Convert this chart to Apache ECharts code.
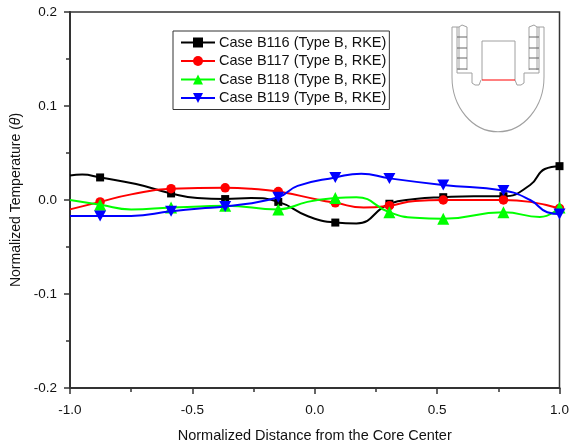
<!DOCTYPE html>
<html><head><meta charset="utf-8">
<style>html,body{margin:0;padding:0;background:#fff}#c{width:569px;height:445px}</style>
<script src="https://cdn.jsdelivr.net/npm/echarts@6/dist/echarts.min.js"></script></head>
<body><div id="c"></div>
<script>
const names=['Case B116 (Type B, RKE)','Case B117 (Type B, RKE)','Case B118 (Type B, RKE)','Case B119 (Type B, RKE)'];
const colors=['#000000','#ff0000','#00ff00','#0000ff'];
const symbols=['rect','circle','triangle','path://M0 0L10 0L5 10Z'];
const markerX=[-0.877,-0.587,-0.366,-0.149,0.084,0.305,0.525,0.771,1.0];
const b116Marks=[0.024,0.007,0.001,-0.002,-0.024,-0.004,0.003,0.004,0.036];
const b117Marks=[-0.002,0.012,0.013,0.009,-0.003,-0.006,0.0,0.0,-0.009];
const b118Marks=[-0.005,-0.008,-0.006,-0.010,0.002,-0.013,-0.020,-0.013,-0.008];
const b119Marks=[-0.017,-0.012,-0.007,0.003,0.024,0.023,0.016,0.010,-0.015];
// extra points read along the curves between the markers
const b116CurveX=[-1.0,-0.95,-0.73,-0.48,-0.26,-0.03,0.17,0.41,0.65,0.88,0.94];
const b116CurveY=[0.026,0.027,0.017,0.002,0.002,-0.017,-0.025,0.001,0.004,0.016,0.033];
const b117CurveX=[-1.0,-0.75,-0.26,0.02,0.2,0.41,0.88];
const b117CurveY=[-0.010,0.006,0.012,0.0,-0.008,-0.001,-0.002];
const b118CurveX=[-1.0,-0.75,-0.47,-0.03,0.17,0.41,0.92];
const b118CurveY=[0.0,-0.010,-0.007,-0.002,0.003,-0.019,-0.018];
const b119CurveX=[-1.0,-0.75,-0.47,-0.07,0.19,0.88,0.95];
const b119CurveY=[-0.017,-0.017,-0.009,0.015,0.028,0.000,-0.013];
const lineX=[b116CurveX,b117CurveX,b118CurveX,b119CurveX];
const lineY=[b116CurveY,b117CurveY,b118CurveY,b119CurveY];
const marks=[b116Marks,b117Marks,b118Marks,b119Marks];
const xTicks=[-1.0,-0.5,0.0,0.5,1.0];

function build(i){
  const pts=lineX[i].map((x,k)=>({value:[x,lineY[i][k]],symbol:'none'}));
  markerX.forEach((x,k)=>pts.push({value:[x,marks[i][k]]}));
  pts.sort((a,b)=>a.value[0]-b.value[0]);
  return pts;
}
const gray='#a0a0a0', dark='#666';
function ln(pts,color,w){return {type:'polyline',silent:true,shape:{points:pts},style:{stroke:color||gray,fill:null,lineWidth:w||1}};}
const inset=[
  ln([[452,27],[452,77]]),ln([[457,27],[457,73],[472,73],[472,83],[475,85],[479,85],[481,80]]),ln([[452,27],[459,27],[462,25],[467,27]]),
  ln([[467,27],[467,70]]),ln([[459,27],[459,70]]),
  ln([[457,37],[467,37]],dark),ln([[457,48],[467,48]],dark),ln([[457,58],[467,58]],dark),ln([[457,69],[467,69]],dark),
  ln([[544,27],[544,77]]),ln([[539,27],[539,73],[524,73],[524,83],[521,85],[517,85],[515,80]]),ln([[544,27],[537,27],[534,25],[529,27]]),
  ln([[529,27],[529,70]]),ln([[537,27],[537,70]]),
  ln([[529,37],[539,37]],dark),ln([[529,48],[539,48]],dark),ln([[529,58],[539,58]],dark),ln([[529,69],[539,69]],dark),
  ln([[482,80],[482,41],[515,41],[515,80]]),
  ln([[482,80],[515,80]],'#ff0000',1),
  {type:'arc',silent:true,originX:498,originY:77,scaleY:1.19,shape:{cx:498,cy:77,r:46,startAngle:0,endAngle:Math.PI},style:{stroke:gray,fill:null,lineWidth:1}}
];

const chart=echarts.init(document.getElementById('c'),null,{renderer:'canvas'});
chart.setOption({
  animation:false,
  textStyle:{fontFamily:'Liberation Sans'},
  grid:{left:70,right:9.5,top:12,bottom:57,outerBoundsMode:'none',show:true,borderColor:'#333',borderWidth:1.5,backgroundColor:'#fff'},
  legend:{left:173,top:31,orient:'vertical',itemGap:3.5,itemWidth:34,itemHeight:12.5,padding:[4,3,4,7],
    borderColor:'#333',borderWidth:1,backgroundColor:'#fff',
    textStyle:{fontSize:14.5,color:'#111',padding:[0,0,0,-1]},data:names},
  xAxis:{type:'value',min:-1,max:1,interval:0.5,
    name:'Normalized Distance from the Core Center',nameLocation:'middle',nameGap:40,
    nameTextStyle:{fontSize:14.5,color:'#111'},
    axisLine:{onZero:false,lineStyle:{color:'#333',width:2}},
    axisTick:{show:true,inside:false,length:6,lineStyle:{color:'#333',width:1.5}},
    minorTick:{show:true,splitNumber:2,length:4,lineStyle:{color:'#333',width:1.5}},
    splitLine:{show:false},minorSplitLine:{show:false},
    axisLabel:{fontSize:13.5,color:'#111',margin:15,showMinLabel:true,showMaxLabel:true,
      formatter:v=>xTicks.includes(v)?v.toFixed(1):''}},
  yAxis:{type:'value',min:-0.2,max:0.2,interval:0.1,
    name:'{a|Normalized Temperature (}{b|θ}{a|)}',nameLocation:'middle',nameGap:47,
    nameTextStyle:{rich:{a:{fontSize:14,color:'#111'},b:{fontSize:14,color:'#111',fontStyle:'italic'}}},
    axisLine:{onZero:false,lineStyle:{color:'#333',width:2}},
    axisTick:{show:true,inside:false,length:6,lineStyle:{color:'#333',width:1.5}},
    minorTick:{show:true,splitNumber:2,length:4,lineStyle:{color:'#333',width:1.5}},
    splitLine:{show:false},minorSplitLine:{show:false},
    axisLabel:{fontSize:13.5,color:'#111',margin:13,formatter:v=>v.toFixed(1)}},
  graphic:inset,
  series:names.map((n,i)=>({
    name:n,type:'line',data:build(i),smooth:0.5,clip:false,showAllSymbol:true,
    symbol:symbols[i],symbolSize:i===0?8:(i===1?9.5:i===2?12:[12,11]),
    lineStyle:{color:colors[i],width:2},itemStyle:{color:colors[i]},
    z:3+i
  }))
});
</script></body></html>
